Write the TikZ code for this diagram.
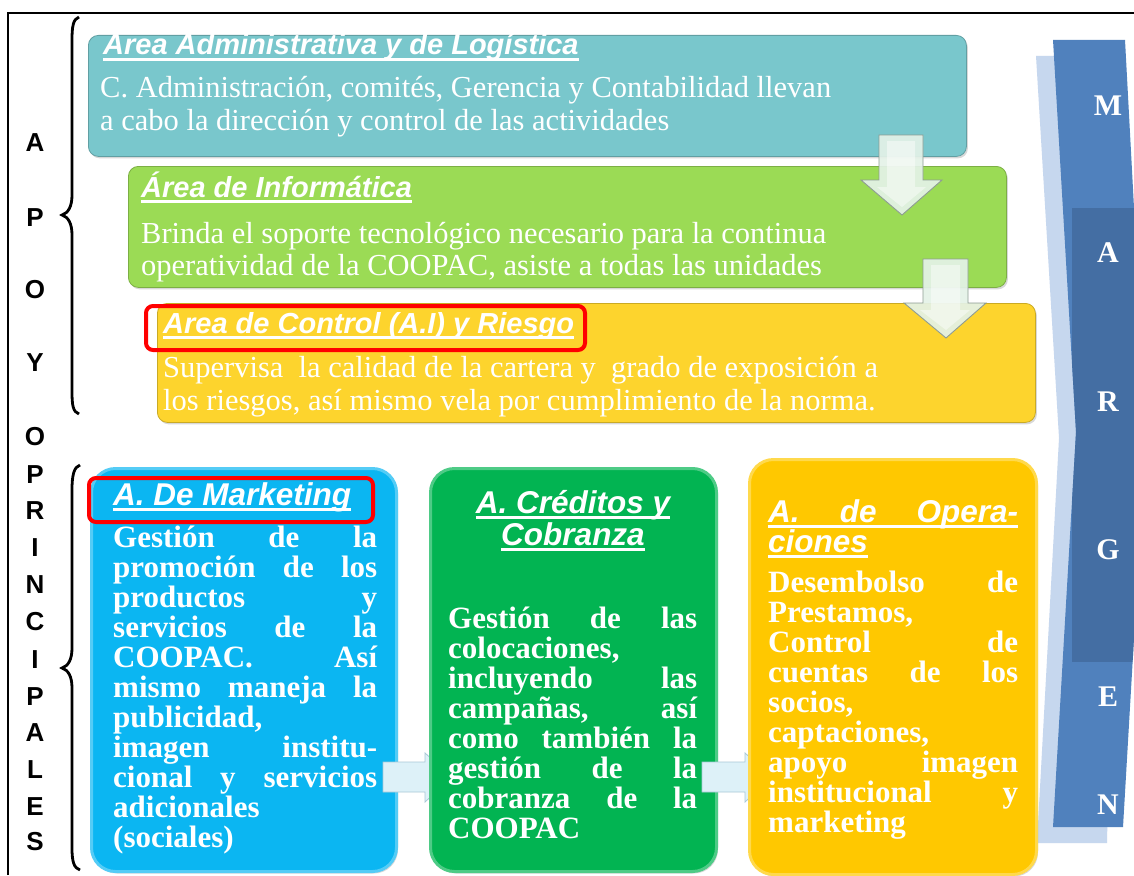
\documentclass[tikz,border=0pt]{standalone}
\usepackage{fontspec}
\setmainfont{Liberation Serif}
\newfontfamily\arialf{Liberation Sans}
\usetikzlibrary{shadows}
\definecolor{tealbox}{HTML}{79C7CC}
\definecolor{greenbox}{HTML}{9BDB55}
\definecolor{yellowbox}{HTML}{FDD42D}
\definecolor{cyanbox}{HTML}{0BB6F2}
\definecolor{gbox}{HTML}{02B452}
\definecolor{goldbox}{HTML}{FFC800}
\definecolor{bandblue}{HTML}{5081BD}
\definecolor{banddark}{HTML}{3F6799}
\definecolor{bandshadow}{HTML}{C6D7EE}
\definecolor{arrowfill}{HTML}{E4F2E8}
\definecolor{arrowedge}{HTML}{8E9C93}
\definecolor{harrowfill}{HTML}{DDF1F8}
\definecolor{harrowedge}{HTML}{A9C9D6}
\definecolor{redmark}{HTML}{FF0000}
\newlength\bw
\newcommand\J[1]{\makebox[\bw][s]{#1}}
\newcommand\UL[1]{\setbox0=\hbox{#1}\rlap{\rule[-5.5pt]{\wd0}{2.2pt}}\box0}
\begin{document}
\begin{tikzpicture}[x=1pt,y=-1pt,
  topbox/.style={rounded corners=10pt, fill=#1, draw=#1!80!black, line width=0.8pt,
    drop shadow={opacity=0.3, shadow xshift=1.5pt, shadow yshift=-2pt},
    anchor=north west, inner sep=0pt},
  botbox/.style={rounded corners=24pt, fill=#1, draw=#1!70!white, line width=3pt,
    drop shadow={opacity=0.3, shadow xshift=1.5pt, shadow yshift=-2pt},
    anchor=north west, inner sep=0pt},
  ttl/.style={font=\arialf\bfseries\itshape\fontsize{29}{30}\selectfont, text=white, inner sep=0pt},
  bttl/.style={font=\arialf\bfseries\itshape\fontsize{31.5}{32}\selectfont, text=white, inner sep=0pt},
  tbody/.style={font=\fontsize{30.5}{33}\selectfont, text=white, inner sep=0pt, anchor=base west},
  bbody/.style={font=\bfseries\fontsize{31}{30}\selectfont, text=white, inner sep=0pt, anchor=base west},
  redbox/.style={draw=redmark, line width=4pt, rounded corners=7pt},
  darrow/.style={fill=arrowfill, fill opacity=0.92, draw=arrowedge, line width=0.9pt},
  dinner/.style={fill=white, fill opacity=0.45},
  harrow/.style={fill=harrowfill, draw=harrowedge, line width=0.8pt},
  sidel/.style={font=\arialf\bfseries\fontsize{26}{26}\selectfont, inner sep=0pt},
  margl/.style={font=\bfseries\fontsize{30}{30}\selectfont, text=white, inner sep=0pt}]
\useasboundingbox (0,0) rectangle (1134,875);
\fill[white] (0,0) rectangle (1134,875);
% frame
\draw[line width=2.2pt] (8,875) -- (8,13) -- (1134,13);
% braces
\draw[line width=2.8pt] (79,17) .. controls (73,19) and (72,27) .. (72,40) -- (72,195)
  .. controls (72,207) and (68,213) .. (62,215) .. controls (68,217) and (72,223) .. (72,235)
  -- (72,392) .. controls (72,405) and (73,412) .. (79,414);
\draw[line width=2.8pt] (80,465) .. controls (74,467) and (72,475) .. (72,490) -- (72,648)
  .. controls (72,660) and (68,666) .. (62,668) .. controls (68,670) and (72,676) .. (72,688)
  -- (72,848) .. controls (72,862) and (74,868) .. (80,870);
% side letters
\foreach \l/\y [count=\i] in {A/143,P/218,O/290,Y/363,O/437,P/475,R/511,I/548,N/585,C/622,I/660,P/697,A/733,L/770,E/807,S/842}
  \node[sidel] (s\i) at (35,\y) {\l};
% MARGEN chevron
\fill[bandshadow] (1036,56) -- (1095,56) -- (1115,440) -- (1107,843) -- (1037,843) -- (1059,438) -- cycle;
\fill[bandblue] (1053,40) -- (1125,40) -- (1146,432) -- (1123,827) -- (1053,827) -- (1076,432) -- cycle;
\begin{scope}
  \clip (1053,40) -- (1125,40) -- (1146,432) -- (1123,827) -- (1053,827) -- (1076,432) -- cycle;
  \fill[banddark, opacity=0.7] (1072,208) rectangle (1150,662);
\end{scope}
\foreach \l/\y [count=\i] in {M/106,A/253,R/402,G/550,E/697,N/805}
  \node[margl] (m\i) at (1108,\y) {\l};
% top boxes
\node[topbox=tealbox, minimum width=878pt, minimum height=121pt] (adm) at (88,35) {};
\node[topbox=greenbox, minimum width=878pt, minimum height=121pt] (inf) at (128,166) {};
\node[topbox=yellowbox, minimum width=878pt, minimum height=119pt] (ctl) at (157,303) {};
% top texts
\node[ttl, anchor=base west] (t1) at (103,55) {\UL{Área Administrativa y de Logística}};
\node[tbody] (b1a) at (100,97) {C. Administración, comités, Gerencia y Contabilidad llevan};
\node[tbody] (b1b) at (100,130) {a cabo la dirección y control de las actividades};
\node[ttl, anchor=base west] (t2) at (141,197) {\UL{Área de Informática}};
\node[tbody] (b2a) at (141,243) {Brinda el soporte tecnológico necesario para la continua};
\node[tbody] (b2b) at (141,275) {operatividad de la COOPAC, asiste a todas las unidades};
\node[ttl, anchor=base west] (t3) at (163,333) {\UL{Area de Control (A.I) y Riesgo}};
\node[tbody] (b3a) at (163,377) {Supervisa\ \ la calidad de la cartera y\ \ grado de exposición a};
\node[tbody] (b3b) at (163,410) {los riesgos, así mismo vela por cumplimiento de la norma.};
\draw[redbox] (146,306) rectangle (585,350);
% down arrows
\path[darrow] (879,135) -- (923,135) -- (923,180) -- (942,180) -- (902,215) -- (861,180) -- (879,180) -- cycle;
\path[dinner] (887,141) -- (915,141) -- (915,187) -- (926,187) -- (902,207) -- (877,187) -- (887,187) -- cycle;
\path[darrow] (923,259) -- (968,259) -- (968,303) -- (986,303) -- (946,338) -- (904,303) -- (923,303) -- cycle;
\path[dinner] (931,265) -- (960,265) -- (960,310) -- (970,310) -- (946,330) -- (920,310) -- (931,310) -- cycle;
% bottom boxes and arrows
\node[botbox=cyanbox, minimum width=305pt, minimum height=403pt] (mkt) at (90,467) {};
\path[harrow] (383,762) -- (425,762) -- (425,753) -- (452,777) -- (425,802) -- (425,792) -- (383,792) -- cycle;
\node[botbox=gbox, minimum width=286pt, minimum height=403pt] (cre) at (429,467) {};
\path[harrow] (702,762) -- (745,762) -- (745,753) -- (772,777) -- (745,802) -- (745,792) -- (702,792) -- cycle;
\node[botbox=goldbox, minimum width=287pt, minimum height=415pt] (ope) at (748,458) {};
% bottom texts
\node[bttl, anchor=base west] (ta) at (113,505) {\UL{A. De Marketing}};
\draw[redbox] (89,478) rectangle (373,522);
\setlength\bw{264pt}
\foreach \t [count=\i from 0] in {{\J{Gestión de la}},{\J{promoción de los}},{\J{productos y}},{\J{servicios de la}},{\J{COOPAC. Así}},{\J{mismo maneja la}},{publicidad,},{\J{imagen institu-}},{\J{cional y servicios}},{adicionales},{(sociales)}}
  \node[bbody] (ba\i) at (113,547+30*\i) {\t};
\node[bttl, anchor=base] (tb1) at (573,513) {\UL{A. Créditos y}};
\node[bttl, anchor=base] (tb2) at (573,545) {\UL{Cobranza}};
\setlength\bw{249pt}
\foreach \t [count=\i from 0] in {{\J{Gestión de las}},{colocaciones,},{\J{incluyendo las}},{\J{campañas, así}},{\J{como también la}},{\J{gestión de la}},{\J{cobranza de la}},{COOPAC}}
  \node[bbody] (bb\i) at (448,628+30*\i) {\t};
\setlength\bw{250pt}
\node[bttl, anchor=base west] (tc1) at (768,522) {\UL{\J{A. de Opera-}}};
\node[bttl, anchor=base west] (tc2) at (768,552) {\UL{ciones}};
\foreach \t [count=\i from 0] in {{\J{Desembolso de}},{Prestamos,},{\J{Control de}},{\J{cuentas de los}},{socios,},{captaciones,},{\J{apoyo imagen}},{\J{institucional y}},{marketing}}
  \node[bbody] (bc\i) at (768,592+30.1*\i) {\t};
\end{tikzpicture}
\end{document}
